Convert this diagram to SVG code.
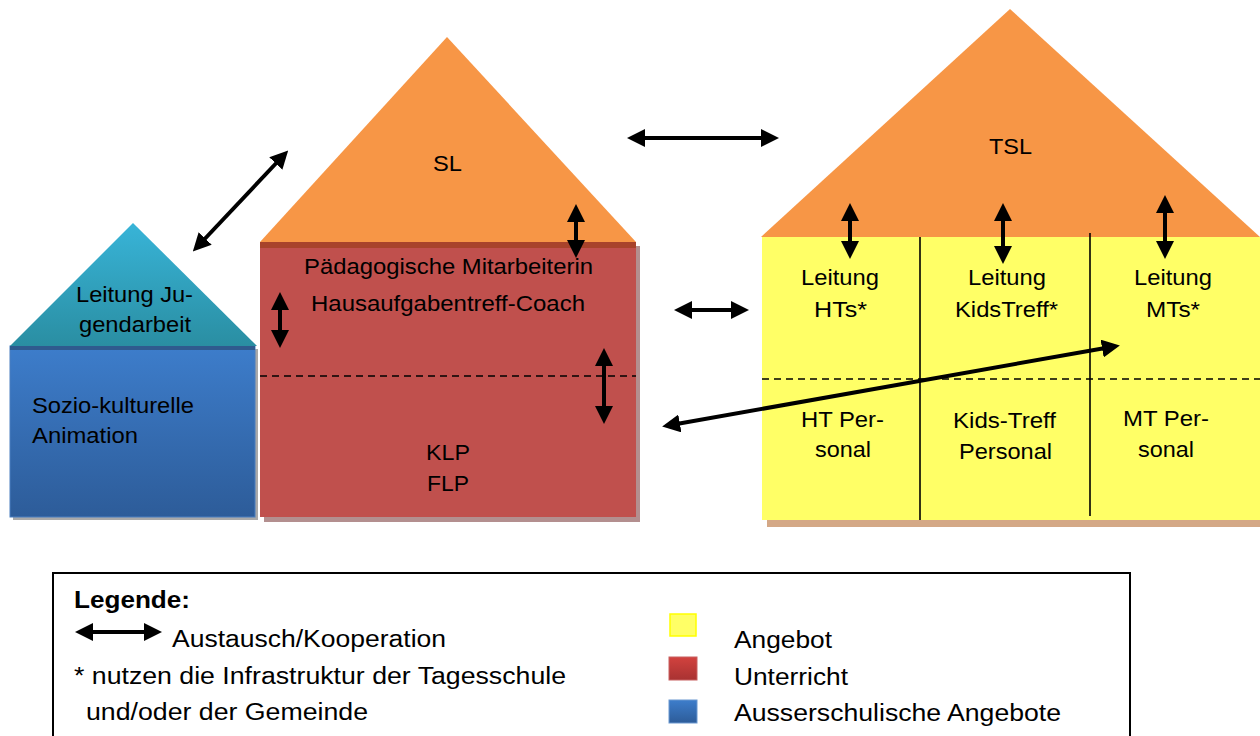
<svg xmlns="http://www.w3.org/2000/svg" width="1260" height="736" viewBox="0 0 1260 736">
  <style>
    text { font-family: "Liberation Sans", Arial, sans-serif; font-size: 22px; fill: #000; }
    .c { text-anchor: middle; }
    .lg { font-size: 23px; }
    .arrow { stroke: #000; stroke-width: 4; fill: none; marker-start: url(#head); marker-end: url(#head); }
    .div { stroke: #000; stroke-width: 1.6; }
    .dash { stroke: #000; stroke-width: 1.6; stroke-dasharray: 7 5; }
  </style>
  <defs>
    <marker id="head" viewBox="0 0 10 10" refX="5" refY="5" markerWidth="4.5" markerHeight="4.5" orient="auto-start-reverse">
      <path d="M0,0 L10,5 L0,10 Z" fill="#000"/>
    </marker>
    <linearGradient id="blueBody" x1="0" y1="0" x2="0" y2="1">
      <stop offset="0" stop-color="#3d7dcb"/>
      <stop offset="1" stop-color="#2d5c99"/>
    </linearGradient>
    <linearGradient id="cyanRoof" x1="0" y1="0" x2="0" y2="1">
      <stop offset="0" stop-color="#38b4d8"/>
      <stop offset="1" stop-color="#2a8ea2"/>
    </linearGradient>
    <linearGradient id="redSwatch" x1="0" y1="0" x2="0" y2="1">
      <stop offset="0" stop-color="#d2423e"/>
      <stop offset="1" stop-color="#a83232"/>
    </linearGradient>
  </defs>

  <!-- youth work house -->
  <g id="house-jugendarbeit">
    <rect x="13" y="349" width="245" height="171" fill="#a9a9a9"/>
    <rect x="10" y="346" width="245" height="171" fill="url(#blueBody)" stroke="#4a7fc0" stroke-width="1"/>
    <rect x="10" y="346" width="245" height="4" fill="#2f5a8e"/>
    <polygon points="133,223 10,346 257,346" fill="url(#cyanRoof)"/>
    <text class="c" x="134.5" y="302" textLength="117" lengthAdjust="spacingAndGlyphs">Leitung Ju-</text>
    <text class="c" x="135" y="332" textLength="112" lengthAdjust="spacingAndGlyphs">gendarbeit</text>
    <text x="32" y="413" textLength="162" lengthAdjust="spacingAndGlyphs">Sozio-kulturelle</text>
    <text x="32" y="443" textLength="106" lengthAdjust="spacingAndGlyphs">Animation</text>
  </g>

  <!-- school house -->
  <g id="house-schule">
    <rect x="264" y="246" width="376" height="276" fill="#b38f8f"/>
    <rect x="260" y="242" width="376" height="275" fill="#c0504d"/>
    <rect x="260" y="242" width="376" height="6" fill="#a8432b"/>
    <polygon points="447,37 260,242 636,242" fill="#f79646"/>
    <line class="dash" x1="260" y1="376" x2="636" y2="376"/>
    <text class="c" x="447.5" y="171" textLength="29" lengthAdjust="spacingAndGlyphs">SL</text>
    <text class="c" x="448.5" y="274" textLength="289" lengthAdjust="spacingAndGlyphs">Pädagogische Mitarbeiterin</text>
    <text class="c" x="448" y="311" textLength="274" lengthAdjust="spacingAndGlyphs">Hausaufgabentreff-Coach</text>
    <text class="c" x="448" y="460" textLength="44" lengthAdjust="spacingAndGlyphs">KLP</text>
    <text class="c" x="448" y="491" textLength="42" lengthAdjust="spacingAndGlyphs">FLP</text>
  </g>

  <!-- day school house -->
  <g id="house-tagesschule">
    <rect x="767" y="242" width="493" height="285" fill="#d4a886"/>
    <rect x="762" y="237" width="498" height="283" fill="#ffff66"/>
    <polygon points="1010,9 761,237 1260,237" fill="#f79646"/>
    <line class="div" x1="920" y1="237" x2="920" y2="520"/>
    <line class="div" x1="1090" y1="233" x2="1090" y2="516"/>
    <line class="dash" x1="762" y1="379" x2="1260" y2="379"/>
    <text class="c" x="1010.5" y="154" textLength="43" lengthAdjust="spacingAndGlyphs">TSL</text>
    <text class="c" x="840" y="285" textLength="78" lengthAdjust="spacingAndGlyphs">Leitung</text>
    <text class="c" x="840.5" y="317" textLength="53" lengthAdjust="spacingAndGlyphs">HTs*</text>
    <text class="c" x="1007" y="285" textLength="78" lengthAdjust="spacingAndGlyphs">Leitung</text>
    <text class="c" x="1006.5" y="317" textLength="103" lengthAdjust="spacingAndGlyphs">KidsTreff*</text>
    <text class="c" x="1173" y="285" textLength="78" lengthAdjust="spacingAndGlyphs">Leitung</text>
    <text class="c" x="1173" y="317" textLength="54" lengthAdjust="spacingAndGlyphs">MTs*</text>
    <text class="c" x="842.5" y="427" textLength="83" lengthAdjust="spacingAndGlyphs">HT Per-</text>
    <text class="c" x="843" y="457" textLength="56" lengthAdjust="spacingAndGlyphs">sonal</text>
    <text class="c" x="1004.5" y="428" textLength="103" lengthAdjust="spacingAndGlyphs">Kids-Treff</text>
    <text class="c" x="1005.5" y="459" textLength="93" lengthAdjust="spacingAndGlyphs">Personal</text>
    <text class="c" x="1166" y="426" textLength="86" lengthAdjust="spacingAndGlyphs">MT Per-</text>
    <text class="c" x="1166" y="457" textLength="56" lengthAdjust="spacingAndGlyphs">sonal</text>
  </g>

  <!-- exchange / cooperation connectors -->
  <g id="connectors">
    <line class="arrow" x1="199" y1="245" x2="282" y2="157"/>
    <line class="arrow" x1="636" y1="138" x2="770" y2="138"/>
    <line class="arrow" x1="683" y1="310" x2="740" y2="310"/>
    <line class="arrow" x1="576" y1="213" x2="576" y2="249"/>
    <line class="arrow" x1="280" y1="301" x2="280" y2="339"/>
    <line class="arrow" x1="604" y1="357" x2="604" y2="415"/>
    <line class="arrow" x1="850" y1="212" x2="850" y2="250"/>
    <line class="arrow" x1="1003" y1="212" x2="1003" y2="255"/>
    <line class="arrow" x1="1165" y1="204" x2="1165" y2="250"/>
    <line class="arrow" x1="671" y1="425" x2="1111" y2="347"/>
  </g>

  <!-- legend -->
  <g id="legend">
    <rect x="53" y="573" width="1077" height="170" fill="#fff" stroke="#000" stroke-width="2"/>
    <text class="lg" x="74" y="608" font-weight="bold" textLength="116" lengthAdjust="spacingAndGlyphs">Legende:</text>
    <line class="arrow" x1="84" y1="632" x2="153" y2="632"/>
    <text class="lg" x="172" y="647" textLength="274" lengthAdjust="spacingAndGlyphs">Austausch/Kooperation</text>
    <text class="lg" x="74" y="684" textLength="492" lengthAdjust="spacingAndGlyphs">* nutzen die Infrastruktur der Tagesschule</text>
    <text class="lg" x="86" y="720" textLength="282" lengthAdjust="spacingAndGlyphs">und/oder der Gemeinde</text>
    <rect x="670" y="614" width="26" height="22" fill="#ffff66" stroke="#ffff00" stroke-width="1.5"/>
    <rect x="669" y="657" width="28" height="23" fill="url(#redSwatch)" stroke="#c86060" stroke-width="1"/>
    <rect x="669" y="700" width="28" height="23" fill="url(#blueBody)" stroke="#6a98d0" stroke-width="1"/>
    <text class="lg" x="734" y="648" textLength="98" lengthAdjust="spacingAndGlyphs">Angebot</text>
    <text class="lg" x="734" y="685" textLength="114" lengthAdjust="spacingAndGlyphs">Unterricht</text>
    <text class="lg" x="734" y="721" textLength="327" lengthAdjust="spacingAndGlyphs">Ausserschulische Angebote</text>
  </g>
</svg>
